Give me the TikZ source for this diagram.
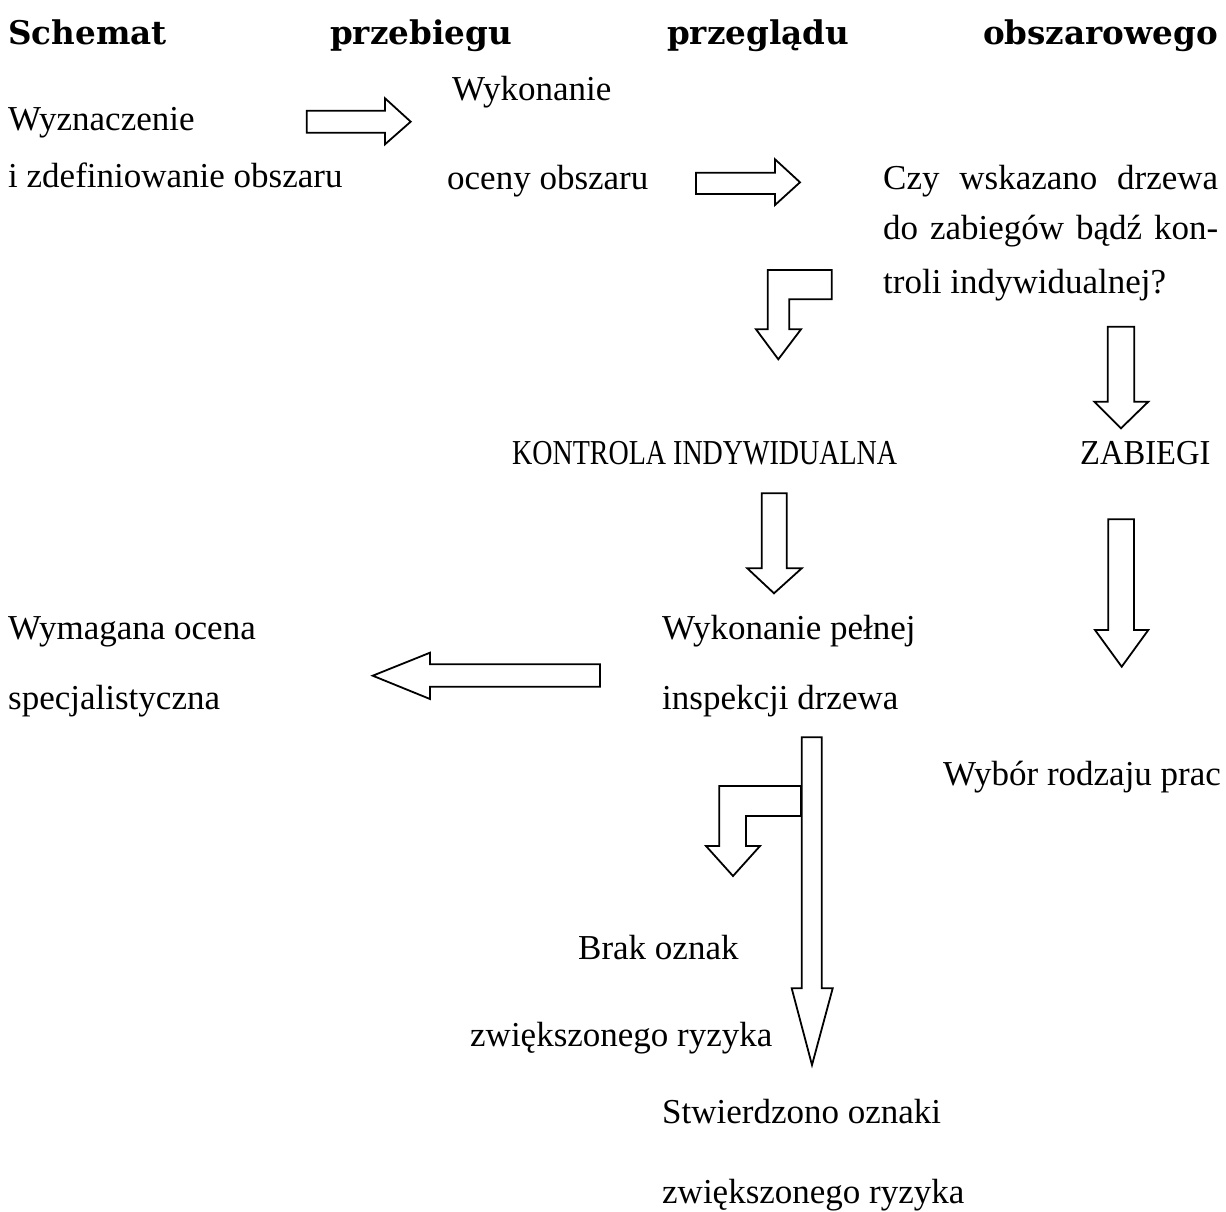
\documentclass[tikz,border=0pt]{standalone}
\usepackage{fontspec}
\setmainfont{Liberation Serif}
\newfontfamily\titlefont{DejaVu Serif}
\begin{document}
\begin{tikzpicture}[x=1pt,y=-1pt,
  blk/.style={draw=black, line width=1.8pt, fill=white, line join=miter},
  txt/.style={anchor=base west, inner sep=0pt, font=\fontsize{35}{42}\selectfont},
  ttl/.style={anchor=base west, inner sep=0pt, font=\titlefont\bfseries\fontsize{32.6}{38}\selectfont}]
\useasboundingbox[fill=white] (0,0) rectangle (1226,1212);
% title
\node[ttl] (title1) at (8,45) {Schemat};
\node[ttl] (title2) at (330,45) {przebiegu};
\node[ttl] (title3) at (667,45) {przeglądu};
\node[ttl, anchor=base east] (title4) at (1218,45) {obszarowego};
% texts
\node[txt] (t1a) at (8,131) {Wyznaczenie};
\node[txt] (t1b) at (8,187) {i zdefiniowanie obszaru};
\node[txt] (t2a) at (452,101) {Wykonanie};
\node[txt] (t2b) at (447,189) {oceny obszaru};
\node[txt] (t3a) at (883,189) {\makebox[335pt][s]{Czy wskazano drzewa}};
\node[txt] (t3b) at (883,239) {\makebox[335pt][s]{do zabiegów bądź kon-}};
\node[txt] (t3c) at (883,293) {troli indywidualnej?};
\node[txt] (t4) at (512,464) {\scalebox{0.8}[1]{KONTROLA INDYWIDUALNA}};
\node[txt] (t5) at (1080,464) {\scalebox{0.93}[1]{ZABIEGI}};
\node[txt] (t6a) at (8,639) {Wymagana ocena};
\node[txt] (t6b) at (8,709) {specjalistyczna};
\node[txt] (t7a) at (662,639) {Wykonanie pełnej};
\node[txt] (t7b) at (662,709) {inspekcji drzewa};
\node[txt] (t8) at (943,785) {Wybór rodzaju prac};
\node[txt] (t9a) at (578,959) {Brak oznak};
\node[txt] (t9b) at (470,1046) {zwiększonego ryzyka};
\node[txt] (t10a) at (662,1123) {Stwierdzono oznaki};
\node[txt] (t10b) at (662,1203) {zwiększonego ryzyka};
% block arrows
\draw[blk] (306.7,110.7) -- (385,110.7) -- (385,98.3) -- (410.7,121.7) -- (385,144.3) -- (385,132.7) -- (306.7,132.7) -- cycle;
\draw[blk] (696,172.7) -- (775,172.7) -- (775,159.3) -- (800,182.3) -- (775,205) -- (775,194) -- (696,194) -- cycle;
\draw[blk] (767.7,270) -- (831.7,270) -- (831.7,299.3) -- (789.3,299.3) -- (789.3,329.3) -- (801,329.3) -- (778.3,359.3) -- (756,329.3) -- (767.7,329.3) -- cycle;
\draw[blk] (1107.7,326.7) -- (1134.3,326.7) -- (1134.3,401.7) -- (1148.3,401.7) -- (1121,428.3) -- (1094.3,401.7) -- (1107.7,401.7) -- cycle;
\draw[blk] (761.7,493.3) -- (786.7,493.3) -- (786.7,568.3) -- (801.7,568.3) -- (774,593.3) -- (747.3,568.3) -- (761.7,568.3) -- cycle;
\draw[blk] (1108.3,519.3) -- (1134,519.3) -- (1134,630) -- (1148.3,630) -- (1121.7,666.7) -- (1095,630) -- (1108.3,630) -- cycle;
\draw[blk] (600,664.3) -- (430,664.3) -- (430,652.7) -- (372.7,675.7) -- (430,699) -- (430,686.7) -- (600,686.7) -- cycle;
\draw[blk] (719.3,786) -- (801,786) -- (801,816) -- (746,816) -- (746,846) -- (760,846) -- (733,876) -- (706,846) -- (719.3,846) -- cycle;
\draw[blk] (801.7,737.3) -- (821.7,737.3) -- (821.7,988.3) -- (832.7,988.3) -- (812,1065) -- (791.7,988.3) -- (801.7,988.3) -- cycle;
\end{tikzpicture}
\end{document}
